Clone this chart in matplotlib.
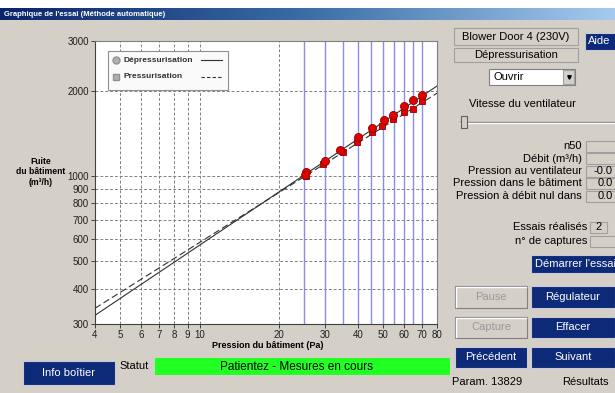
import matplotlib
matplotlib.use("Agg")
import matplotlib.pyplot as plt
import numpy as np
from matplotlib.patches import Rectangle
from matplotlib.colors import LinearSegmentedColormap

W, H = 615, 393
FONT = ["Liberation Sans", "DejaVu Sans"]
plt.rcParams['font.family'] = FONT

# ---------------- data ----------------
pressure_ticks = [4, 5, 6, 7, 8, 9, 10, 20, 30, 40, 50, 60, 70, 80]
flow_ticks = [300, 400, 500, 600, 700, 800, 900, 1000, 2000, 3000]
grid_pressures = [5, 6, 7, 8, 9, 10, 20]
grid_flows = [400, 500, 600, 700, 800, 900, 1000, 2000]
target_pressures = [25, 30, 35, 40, 45, 50, 55, 60, 65, 70]

depress_p = [25.5, 25.1, 30.0, 34.2, 40.0, 45.1, 50.5, 54.5, 59.8, 64.8, 70.0]
depress_q = [1036, 1009, 1133, 1236, 1370, 1474, 1578, 1640, 1771, 1852, 1933]
press_p = [25.3, 29.5, 35.0, 39.8, 45.1, 49.6, 54.5, 59.8, 64.8, 70.0]
press_q = [1000, 1104, 1216, 1320, 1434, 1502, 1586, 1687, 1721, 1845]

depress_fit_p = [4, 80]
depress_fit_q = [322, 2080]
press_fit_p = [4, 80]
press_fit_q = [341, 1962]

BG = '#d4d0c8'
NAVY = '#0c2a78'
UIFS = 8

fig = plt.figure(figsize=(W / 100, H / 100), dpi=100)
fig.patch.set_facecolor(BG)

# background UI layer
ui = fig.add_axes([0, 0, 1, 1], zorder=0)
ui.set_xlim(0, W)
ui.set_ylim(H, 0)
ui.axis('off')

# title bar gradient
cmap = LinearSegmentedColormap.from_list('tb', ['#0a246a', '#3a6ea5', '#a6caf0'])
grad = np.linspace(0, 1, 256).reshape(1, -1)
ui.imshow(grad, extent=[0, W, 20, 8], cmap=cmap, aspect='auto', zorder=1)
ui.add_patch(Rectangle((0, 0), W, 8, facecolor='white', edgecolor='none', zorder=1))
ui.text(4, 14.5, "Graphique de l'essai (Méthode automatique)", color='white',
        fontsize=5.5, fontweight='bold', va='center', ha='left', zorder=2)


def box(x0, y0, x1, y1, face=BG, edge='#808080', lw=0.8, z=2):
    ui.add_patch(Rectangle((x0, y0), x1 - x0, y1 - y0, facecolor=face,
                           edgecolor=edge, linewidth=lw, zorder=z))


def button(x0, y0, x1, y1, text, disabled=False, ha='center', tx=None):
    xt = (x0 + x1) / 2 if tx is None else tx
    if disabled:
        box(x0, y0, x1, y1, face=BG, edge='#808080', lw=0.8)
        ui.plot([x0 + 1, x0 + 1, x1 - 1], [y1 - 1, y0 + 1, y0 + 1], color='white', lw=1, zorder=3)
        ui.text(xt, (y0 + y1) / 2, text, color='#9a9a9a', fontsize=UIFS,
                ha=ha, va='center', zorder=4)
    else:
        box(x0, y0, x1, y1, face=NAVY, edge='#c8c8d8', lw=0.8)
        ui.text(xt, (y0 + y1) / 2, text, color='white', fontsize=UIFS,
                ha=ha, va='center', zorder=4)


# right panel
box(454, 28, 578, 45, face=BG, edge='#a0a0a0')
ui.text(516, 36.5, "Blower Door 4 (230V)", fontsize=UIFS, ha='center', va='center', zorder=4)
button(585, 33, 625, 50, "Aide", ha='left', tx=588)
box(454, 48, 578, 62, face=BG, edge='#a0a0a0')
ui.text(516, 55, "Dépressurisation", fontsize=UIFS, ha='center', va='center', zorder=4)
box(489, 69, 575, 85, face='white', edge='#808080')
ui.text(493, 77, "Ouvrir", fontsize=UIFS, ha='left', va='center', zorder=4)
box(563, 70, 574, 84, face=BG, edge='#a0a0a0', z=3)
ui.plot([568.5], [77], marker='v', markersize=2.5, color='black', zorder=5)
ui.text(522, 104, "Vitesse du ventilateur", fontsize=UIFS, ha='center', va='center', zorder=4)
ui.plot([460, 615], [121.5, 121.5], color='#808080', lw=1, zorder=3)
ui.plot([460, 615], [123, 123], color='white', lw=1, zorder=3)
box(461, 116, 467, 128, face=BG, edge='#606060', z=4)

labels_right = [("n50", 146, ""), ("Débit (m³/h)", 158.5, ""),
                ("Pression au ventilateur", 171, "-0.0"),
                ("Pression dans le bâtiment", 183.5, "0.0"),
                ("Pression à débit nul dans", 196, "0.0")]
for lab, yy, val in labels_right:
    ui.text(582, yy, lab, fontsize=UIFS, ha='right', va='center', zorder=4)
    box(586, yy - 5.5, 625, yy + 5.5, face=BG, edge='#a0a0a0')
    if val:
        ui.text(613, yy, val, fontsize=UIFS, ha='right', va='center', zorder=4)

ui.text(587, 227, "Essais réalisés", fontsize=UIFS, ha='right', va='center', zorder=4)
box(590, 221.5, 607, 232.5, face=BG, edge='#a0a0a0')
ui.text(598.5, 227, "2", fontsize=UIFS, ha='center', va='center', zorder=4)
ui.text(587, 241, "n° de captures", fontsize=UIFS, ha='right', va='center', zorder=4)
box(590, 235.5, 625, 246.5, face=BG, edge='#a0a0a0')

button(531, 255, 625, 273, "Démarrer l'essai", ha='left', tx=535)
button(455, 286, 527, 308, "Pause", disabled=True)
button(531, 286, 615, 308, "Régulateur")
button(455, 317, 527, 338, "Capture", disabled=True)
button(531, 317, 615, 338, "Effacer")
button(455, 347, 527, 368, "Précédent")
button(531, 347, 615, 368, "Suivant")
ui.text(487, 382, "Param. 13829", fontsize=UIFS, ha='center', va='center', zorder=4)
ui.text(585, 382, "Résultats", fontsize=UIFS, ha='center', va='center', zorder=4)

# bottom
button(23, 361, 115, 385, "Info boîtier")
ui.text(119, 366, "Statut", fontsize=UIFS, ha='left', va='center', zorder=4)
box(155, 358, 450, 375, face='#22ff22', edge='none')
ui.text(297, 366.5, "Patientez - Mesures en cours", fontsize=8.5, ha='center', va='center', zorder=4)

# axis labels
ui.text(41, 172, "Fuite\ndu bâtiment\n(m³/h)", fontsize=6.2, fontweight='bold',
        ha='center', va='center', linespacing=1.25, zorder=4)
ui.text(268, 346, "Pression du bâtiment (Pa)", fontsize=6.5, fontweight='bold',
        ha='center', va='center', zorder=4)

# ---------------- chart ----------------
ax = fig.add_axes([95 / W, (H - 324) / H, 342 / W, 283 / H], zorder=5)
ax.set_facecolor('white')
ax.set_xscale('log')
ax.set_yscale('log')
ax.set_xlim(4, 80)
ax.set_ylim(300, 3000)

for p in grid_pressures:
    ax.axvline(p, color='#808080', lw=0.7, ls=(0, (3, 2)), zorder=1)
for q in grid_flows:
    ax.axhline(q, color='#808080', lw=0.7, ls=(0, (3, 2)), zorder=1)
for p in target_pressures:
    ax.axvline(p, color='#8c8ce6', lw=1.0, zorder=2)

ax.plot(depress_fit_p, depress_fit_q, color='#303030', lw=0.8, zorder=3)
ax.plot(press_fit_p, press_fit_q, color='#303030', lw=0.8, ls=(0, (6, 3)), zorder=3)

ax.plot(press_p, press_q, ls='none', marker='s', markersize=5, markerfacecolor='#e00000',
        markeredgecolor='#900000', markeredgewidth=0.6, zorder=4)
ax.plot(depress_p, depress_q, ls='none', marker='o', markersize=5.8, markerfacecolor='#e00000',
        markeredgecolor='#900000', markeredgewidth=0.6, zorder=5)

ax.xaxis.set_minor_locator(matplotlib.ticker.NullLocator())
ax.yaxis.set_minor_locator(matplotlib.ticker.NullLocator())
ax.set_xticks(pressure_ticks)
ax.set_xticklabels([str(t) for t in pressure_ticks])
ax.set_yticks(flow_ticks)
ax.set_yticklabels([str(t) for t in flow_ticks])
ax.tick_params(axis='both', direction='out', length=3, width=0.7, color='#404040',
               labelsize=7, labelcolor='#202020', pad=1.5)
for s in ax.spines.values():
    s.set_color('#808080')
    s.set_linewidth(0.8)
ax.spines['left'].set_color('#404040')
ax.spines['bottom'].set_color('#404040')

# ---------------- legend (foreground layer) ----------------
fg = fig.add_axes([0, 0, 1, 1], zorder=10)
fg.set_xlim(0, W)
fg.set_ylim(H, 0)
fg.axis('off')
fg.patch.set_alpha(0)
fg.add_patch(Rectangle((108, 51), 120, 39, facecolor='#fafafa', edgecolor='#909090', linewidth=0.8))
fg.plot([116], [60], marker='o', markersize=5, markerfacecolor='#b0b0b0', markeredgecolor='#909090')
fg.plot([116], [77], marker='s', markersize=5, markerfacecolor='#b0b0b0', markeredgecolor='#909090')
fg.text(124, 60, "Dépressurisation", fontsize=6, fontweight='bold', ha='left', va='center', color='#303030')
fg.text(124, 77, "Pressurisation", fontsize=6, fontweight='bold', ha='left', va='center', color='#303030')
fg.plot([201, 222], [60, 60], color='#303030', lw=0.8)
fg.plot([201, 222], [77, 77], color='#303030', lw=0.8, ls=(0, (3, 2)))

fig.savefig("out.png", dpi=100, facecolor=fig.get_facecolor())
